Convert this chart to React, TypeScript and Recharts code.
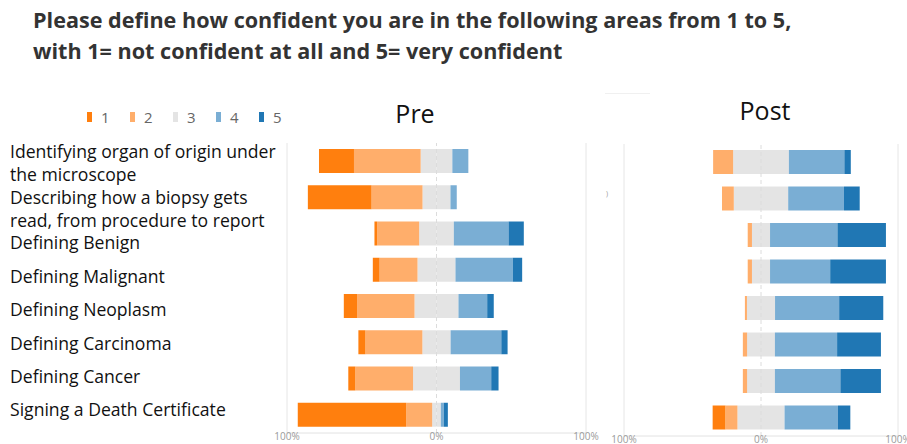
import React from 'react';
import { BarChart, Bar, XAxis, YAxis, ReferenceLine } from 'recharts';

// Likert answers in percent, rows top to bottom
const categories = [
  'Identifying organ',
  'Describing biopsy',
  'Benign',
  'Malignant',
  'Neoplasm',
  'Carcinoma',
  'Cancer',
  'Death Certificate',
];

const pre1 = [23.4, 42.6, 1.8, 4.5, 9.0, 4.7, 4.7, 72.5];
const pre2 = [44.6, 34.1, 28.1, 25.4, 38.3, 38.1, 38.6, 17.4];
const pre3 = [21.2, 18.7, 23.2, 25.4, 29.4, 18.9, 31.4, 5.8];
const pre4 = [10.7, 4.2, 36.6, 38.3, 19.2, 33.9, 20.9, 2.0];
const pre5 = [0, 0, 10.2, 6.3, 4.4, 4.2, 4.9, 2.7];

const post1 = [0, 0, 0, 0, 0, 0, 0, 9.3];
const post2 = [14.6, 8.6, 3.1, 3.1, 1.5, 3.1, 3.1, 8.8];
const post3 = [40.7, 39.7, 13.2, 13.2, 20.5, 20.3, 20.3, 34.4];
const post4 = [40.5, 40.7, 49.2, 43.9, 46.8, 45.4, 47.8, 39.0];
const post5 = [4.7, 11.5, 35.4, 40.7, 32.2, 32.0, 29.6, 9.0];

const labelLines = [
  'Identifying organ of origin under',
  'the microscope',
  'Describing how a biopsy gets',
  'read, from procedure to report',
  'Defining Benign',
  'Defining Malignant',
  'Defining Neoplasm',
  'Defining Carcinoma',
  'Defining Cancer',
  'Signing a Death Certificate',
];
const labelBaselines = [158, 181, 204, 227, 249, 282.5, 316, 349.5, 383, 416];

const legendNames = ['1', '2', '3', '4', '5'];
const colors = ['#ff7f0e', '#ffae6b', '#e4e4e4', '#7aaed4', '#2077b4'];

const xTicks = [-100, 0, 100];

// neutral answers are split around zero, disagreement goes left
const buildRows = (v1: number[], v2: number[], v3: number[], v4: number[], v5: number[]) =>
  categories.map((name, i) => ({
    name,
    n3: -v3[i] / 2,
    n2: -v2[i],
    n1: -v1[i],
    p3: v3[i] / 2,
    p4: v4[i],
    p5: v5[i],
  }));

const preRows = buildRows(pre1, pre2, pre3, pre4, pre5);
const postRows = buildRows(post1, post2, post3, post4, post5);

const font = '"Open Sans", sans-serif';

const Panel: React.FC<{ data: any[]; width: number; height: number }> = ({ data, width, height }) => (
  <BarChart
    width={width}
    height={height}
    data={data}
    layout="vertical"
    stackOffset="sign"
    barSize={24}
    margin={{ top: 0, right: 15, bottom: 0, left: 15 }}
  >
    <XAxis
      type="number"
      domain={[-100, 100]}
      ticks={xTicks}
      interval={0}
      allowDataOverflow
      tickFormatter={(v: number) => `${Math.abs(v)}%`}
      axisLine={{ stroke: '#e2e2e2' }}
      tickLine={false}
      tickSize={0}
      tickMargin={0}
      height={14}
      tick={{ fontSize: 10, fill: '#9a9a9a', fontFamily: font }}
    />
    <YAxis type="category" dataKey="name" hide />
    <ReferenceLine x={-100} stroke="#e6e6e6" />
    <ReferenceLine x={100} stroke="#e6e6e6" />
    <ReferenceLine x={0} stroke="#dcdcdc" strokeDasharray="4 3" />
    <Bar dataKey="n3" stackId="a" fill={colors[2]} isAnimationActive={false} />
    <Bar dataKey="n2" stackId="a" fill={colors[1]} isAnimationActive={false} />
    <Bar dataKey="n1" stackId="a" fill={colors[0]} isAnimationActive={false} />
    <Bar dataKey="p3" stackId="a" fill={colors[2]} isAnimationActive={false} />
    <Bar dataKey="p4" stackId="a" fill={colors[3]} isAnimationActive={false} />
    <Bar dataKey="p5" stackId="a" fill={colors[4]} isAnimationActive={false} />
  </BarChart>
);

export default function App() {
  return (
    <div style={{ position: 'absolute', left: 0, top: 0, width: 907, height: 444, background: '#fff', overflow: 'hidden', fontFamily: font }}>
      <svg width={907} height={444} style={{ position: 'absolute', left: 0, top: 0 }}>
        <text x={33} y={28} fontSize={21.6} fontWeight={700} fill="#333" fontFamily={font}>
          Please define how confident you are in the following areas from 1 to 5,
        </text>
        <text x={33} y={58.5} fontSize={21.6} fontWeight={700} fill="#333" fontFamily={font}>
          with 1= not confident at all and 5= very confident
        </text>
        {legendNames.map((n, i) => (
          <g key={n}>
            <rect x={87 + i * 43} y={112} width={5} height={10} fill={colors[i]} />
            <text x={101 + i * 43} y={123} fontSize={15} fill="#666" fontFamily={font}>{n}</text>
          </g>
        ))}
        <text x={415} y={123} fontSize={25} textAnchor="middle" fill="#111" fontFamily={font}>Pre</text>
        <text x={765} y={120} fontSize={25} textAnchor="middle" fill="#111" fontFamily={font}>Post</text>
        {labelLines.map((t, i) => (
          <text key={t} x={10} y={labelBaselines[i]} fontSize={17.6} fill="#111" fontFamily={font}>{t}</text>
        ))}
        <text x={606} y={196} fontSize={7} fill="#999" fontFamily={font}>)</text>
        <line x1={605} x2={650} y1={93.5} y2={93.5} stroke="#f0f0f0" />
      </svg>
      <div style={{ position: 'absolute', left: 272, top: 143 }}>
        <Panel data={preRows} width={329} height={304} />
      </div>
      <div style={{ position: 'absolute', left: 609, top: 144 }}>
        <Panel data={postRows} width={304} height={306} />
      </div>
    </div>
  );
}
